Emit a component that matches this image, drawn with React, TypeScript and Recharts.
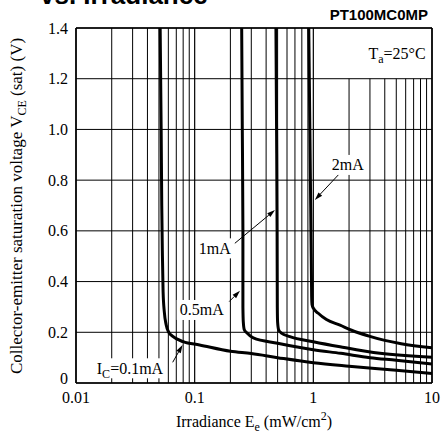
import React from "react";
import {
  LineChart,
  Line,
  XAxis,
  YAxis,
  CartesianGrid,
  ReferenceLine,
  ReferenceDot,
} from "recharts";

// irradiance (mW/cm2) and VCE(sat) (V) per collector current
const ic01E = [0.0512, 0.0522, 0.0528, 0.0535, 0.0542, 0.0555, 0.0575, 0.0605, 0.065, 0.08, 0.11, 0.2, 0.3, 0.5, 1, 2, 5, 10];
const ic01V = [1.4, 1.0, 0.7, 0.5, 0.36, 0.28, 0.23, 0.2, 0.185, 0.163, 0.15, 0.125, 0.116, 0.1, 0.08, 0.066, 0.05, 0.037];

const ic05E = [0.249, 0.252, 0.255, 0.255, 0.257, 0.262, 0.275, 0.312, 0.5, 1, 1.7, 3, 5, 10];
const ic05V = [1.4, 1.0, 0.6, 0.3, 0.24, 0.21, 0.198, 0.178, 0.157, 0.131, 0.117, 0.1, 0.09, 0.075];

const ic1E = [0.484, 0.49, 0.495, 0.497, 0.5, 0.51, 0.535, 0.635, 1, 1.68, 3.64, 10];
const ic1V = [1.4, 1.0, 0.6, 0.3, 0.24, 0.21, 0.198, 0.183, 0.163, 0.143, 0.117, 0.102];

const ic2E = [0.915, 0.935, 0.95, 0.96, 0.965, 0.968, 0.975, 1.0, 1.1, 1.29, 1.68, 2.1, 2.9, 4, 5.5, 10];
const ic2V = [1.4, 1.0, 0.7, 0.5, 0.4, 0.34, 0.31, 0.295, 0.275, 0.25, 0.228, 0.208, 0.186, 0.168, 0.155, 0.139];

const decadeTicks = [0.01, 0.1, 1, 10];
const minorGrid = [0.02, 0.03, 0.04, 0.05, 0.06, 0.07, 0.08, 0.09, 0.2, 0.3, 0.4, 0.5, 0.6, 0.7, 0.8, 0.9];
const boxedGrid = [2, 3, 4, 5, 6, 7, 8, 9];
const vTicks = [0, 0.2, 0.4, 0.6, 0.8, 1.0, 1.2, 1.4];

const zip = (e: number[], v: number[]) => e.map((x, i) => ({ x, y: v[i] }));

const serif = "Liberation Serif, Times New Roman, serif";
const sans = "Liberation Sans, Arial, sans-serif";

const arrowShape = (p: any) => {
  const { x1, y1, x2, y2 } = p;
  const a = Math.atan2(y2 - y1, x2 - x1);
  const L = 8;
  const W = 2.5;
  const bx = x2 - L * Math.cos(a);
  const by = y2 - L * Math.sin(a);
  const px = -Math.sin(a) * W;
  const py = Math.cos(a) * W;
  return (
    <g>
      <line x1={x1} y1={y1} x2={bx} y2={by} stroke="#000" strokeWidth={1} />
      <polygon points={`${x2},${y2} ${bx + px},${by + py} ${bx - px},${by - py}`} fill="#000" />
    </g>
  );
};

const boxLabel = (w: number, content: React.ReactNode) => (p: any) => {
  const { cx, cy } = p;
  return (
    <g>
      <rect x={cx - w / 2} y={cy - 10} width={w} height={20} fill="#fff" />
      <text x={cx} y={cy + 5.5} textAnchor="middle" fontFamily={serif} fontSize={16} fill="#000">
        {content}
      </text>
    </g>
  );
};

const YTick = (p: any) => {
  const { x, y, payload } = p;
  const v = payload.value as number;
  return (
    <text x={x} y={y + (v === 0 ? 1 : 5.5)} textAnchor="end" fontFamily={serif} fontSize={16} fill="#000">
      {v === 0 ? "0" : v.toFixed(1)}
    </text>
  );
};

const XTick = (p: any) => {
  const { x, y, payload } = p;
  return (
    <text x={x} y={y + 12} textAnchor="middle" fontFamily={serif} fontSize={16} fill="#000">
      {String(payload.value)}
    </text>
  );
};

export default function App() {
  return (
    <div style={{ position: "absolute", left: 0, top: 0, width: 443, height: 434, background: "#fff" }}>
      <LineChart width={443} height={434} margin={{ top: 28, right: 11, left: 26, bottom: 21 }}>
        <CartesianGrid vertical={false} stroke="#000" strokeWidth={1} />
        <XAxis
          type="number"
          dataKey="x"
          scale="log"
          domain={[0.01, 10]}
          ticks={decadeTicks}
          allowDataOverflow
          height={30}
          tickLine={false}
          axisLine={{ stroke: "#000", strokeWidth: 1.5 }}
          tick={<XTick />}
        />
        <YAxis
          type="number"
          dataKey="y"
          domain={[0, 1.4]}
          ticks={vTicks}
          width={50}
          tickLine={false}
          axisLine={{ stroke: "#000", strokeWidth: 1.5 }}
          tick={<YTick />}
        />
        {decadeTicks.map((v) => (
          <ReferenceLine key={`d${v}`} x={v} stroke="#000" strokeWidth={1.2} />
        ))}
        {minorGrid.map((v) => (
          <ReferenceLine key={`m${v}`} x={v} stroke="#000" strokeWidth={1} />
        ))}
        {boxedGrid.map((v) => (
          <ReferenceLine
            key={`b${v}`}
            segment={[{ x: v, y: 0 }, { x: v, y: 1.2 }]}
            stroke="#000"
            strokeWidth={1}
          />
        ))}
        <ReferenceLine y={1.4} stroke="#000" strokeWidth={1.5} />
        <ReferenceLine x={10} stroke="#000" strokeWidth={1.5} />

        <Line data={zip(ic01E, ic01V)} dataKey="y" type="monotone" stroke="#000" strokeWidth={3} dot={false} isAnimationActive={false} />
        <Line data={zip(ic05E, ic05V)} dataKey="y" type="monotone" stroke="#000" strokeWidth={3} dot={false} isAnimationActive={false} />
        <Line data={zip(ic1E, ic1V)} dataKey="y" type="monotone" stroke="#000" strokeWidth={3} dot={false} isAnimationActive={false} />
        <Line data={zip(ic2E, ic2V)} dataKey="y" type="monotone" stroke="#000" strokeWidth={3} dot={false} isAnimationActive={false} />

        <ReferenceLine segment={[{ x: 1.68, y: 0.828 }, { x: 1.03, y: 0.722 }]} shape={arrowShape} />
        <ReferenceLine segment={[{ x: 0.218, y: 0.551 }, { x: 0.475, y: 0.682 }]} shape={arrowShape} />
        <ReferenceLine segment={[{ x: 0.1955, y: 0.321 }, { x: 0.241, y: 0.364 }]} shape={arrowShape} />
        <ReferenceLine segment={[{ x: 0.0653, y: 0.0816 }, { x: 0.079, y: 0.15 }]} shape={arrowShape} />

        <ReferenceDot x={1.95} y={0.86} r={0} shape={boxLabel(34, "2mA")} />
        <ReferenceDot x={0.148} y={0.531} r={0} shape={boxLabel(36, "1mA")} />
        <ReferenceDot x={0.1146} y={0.288} r={0} shape={boxLabel(50, "0.5mA")} />
        <ReferenceDot
          x={0.0285}
          y={0.058}
          r={0}
          shape={boxLabel(
            74,
            <>
              <tspan>I</tspan>
              <tspan dy={4} fontSize={12}>C</tspan>
              <tspan dy={-4}>=0.1mA</tspan>
            </>
          )}
        />
      </LineChart>
      <svg
        width={443}
        height={434}
        style={{ position: "absolute", left: 0, top: 0, pointerEvents: "none" }}
      >
        <text x={40} y={4} fontFamily={sans} fontWeight="bold" fontSize={26} fill="#000">
          vs. Irradiance
        </text>
        <text x={428} y={20} textAnchor="end" fontFamily={sans} fontWeight="bold" fontSize={15} fill="#000">
          PT100MC0MP
        </text>
        <text x={397} y={59} textAnchor="middle" fontFamily={serif} fontSize={16} fill="#000">
          <tspan>T</tspan>
          <tspan dy={4} fontSize={12}>a</tspan>
          <tspan dy={-4}>=25°C</tspan>
        </text>
        <text
          transform="translate(22,206) rotate(-90)"
          textAnchor="middle"
          fontFamily={serif}
          fontSize={17}
          fill="#000"
        >
          <tspan>Collector-emitter saturation voltage V</tspan>
          <tspan dy={4} fontSize={12}>CE</tspan>
          <tspan dy={-4}> (sat) (V)</tspan>
        </text>
        <text x={254} y={427} textAnchor="middle" fontFamily={serif} fontSize={16} fill="#000">
          <tspan>Irradiance E</tspan>
          <tspan dy={4} fontSize={12}>e</tspan>
          <tspan dy={-4}> (mW/cm</tspan>
          <tspan dy={-7} fontSize={12}>2</tspan>
          <tspan dy={7}>)</tspan>
        </text>
      </svg>
    </div>
  );
}
